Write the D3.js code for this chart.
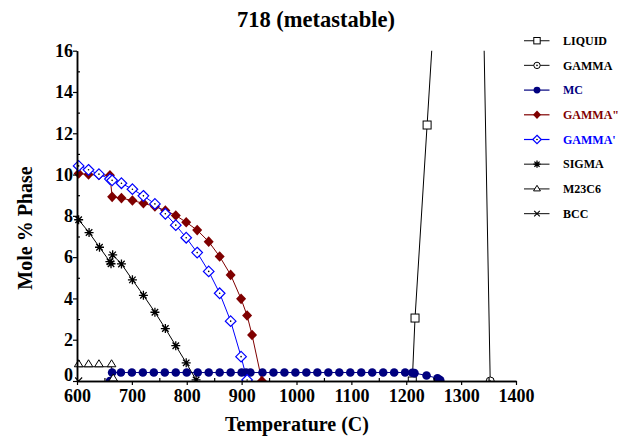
<!DOCTYPE html>
<html>
<head>
<meta charset="utf-8">
<script src="https://cdn.jsdelivr.net/npm/d3@7"></script>
<style>
  body { margin: 0; background: #fff; }
  svg { display: block; }
  text { font-family: "Liberation Serif", "Times New Roman", serif; font-weight: bold; }
</style>
</head>
<body>
<svg id="chart" width="624" height="437"></svg>
<script>
// Phase amounts (mole %) versus temperature (C) for alloy 718, metastable calculation
const liquidPts = [[1211, 0], [1216, 3.05], [1238, 12.4], [1260, 21.8]];
const gammaPts = [[1330, 33.4], [1353, 0]];
const mcPts = [[660, 0], [664, 0.41], [680, 0.41], [700, 0.41], [720, 0.41], [740, 0.41], [760, 0.41],
  [780, 0.41], [800, 0.41], [820, 0.41], [840, 0.41], [860, 0.41], [880, 0.41], [900, 0.41],
  [908, 0.41], [916, 0.41], [938, 0.41], [958, 0.41], [978, 0.41], [998, 0.41], [1018, 0.41],
  [1038, 0.41], [1058, 0.41], [1078, 0.41], [1098, 0.41], [1118, 0.41], [1138, 0.41],
  [1158, 0.41], [1178, 0.41], [1198, 0.41], [1211, 0.40], [1215, 0.38], [1237, 0.27],
  [1257, 0.13], [1262, 0.04]];
const gammaDblPrimePts = [[603, 10.05], [621, 10.0], [640, 9.98], [660, 9.97], [664, 8.92],
  [681, 8.86], [701, 8.74], [721, 8.61], [742, 8.45], [761, 8.26], [780, 8.02], [799, 7.69],
  [819, 7.31], [840, 6.75], [860, 6.03], [880, 5.14], [899, 3.98], [910, 3.17], [919, 2.23],
  [937, 0]];
const gammaPrimePts = [[603, 10.42], [621, 10.23], [640, 10.02], [660, 9.78], [664, 9.72],
  [681, 9.58], [701, 9.29], [721, 8.97], [742, 8.58], [761, 8.10], [780, 7.55], [799, 6.94],
  [819, 6.22], [840, 5.31], [860, 4.25], [880, 2.90], [899, 1.18], [910, 0.05]];
const sigmaPts = [[603, 7.81], [622, 7.19], [641, 6.48], [660, 5.78], [662, 5.68], [665, 6.11],
  [681, 5.67], [701, 4.90], [721, 4.15], [742, 3.33], [761, 2.54], [780, 1.71], [799, 0.88],
  [817, 0.05]];
const m23c6Pts = [[603, 0.69], [621, 0.69], [640, 0.69], [663, 0.69], [666, 0]];
const bccPts = [[603, 0]];

const seriesNames = ["LIQUID", "GAMMA", "MC", "GAMMA\"", "GAMMA'", "SIGMA", "M23C6", "BCC"];
const seriesData = [liquidPts, gammaPts, mcPts, gammaDblPrimePts, gammaPrimePts, sigmaPts, m23c6Pts, bccPts];
const seriesColors = ["#000", "#000", "#00007f", "#7f0000", "#0000ff", "#000", "#000", "#000"];
const seriesMarkers = ["square", "circleDot", "dot", "diamond", "diamondDot", "asterisk", "triangle", "cross"];

const xTicks = [600, 700, 800, 900, 1000, 1100, 1200, 1300, 1400];
const xMinorTicks = [650, 750, 850, 950, 1050, 1150, 1250, 1350];
const yTicks = [0, 2, 4, 6, 8, 10, 12, 14, 16];
const yMinorTicks = [1, 3, 5, 7, 9, 11, 13, 15];

const svg = d3.select("#chart");
const x = d3.scaleLinear().domain([600, 1400]).range([77, 516]);
const y = d3.scaleLinear().domain([0, 16]).range([381, 50.7]);

svg.append("defs").append("clipPath").attr("id", "plotClip")
  .append("rect").attr("x", 0).attr("y", y(16)).attr("width", 540).attr("height", y(0) - y(16));

// Marker shapes shared by the plot and the legend
function drawMarker(g, type, cx, cy, color, s) {
  const sw = 1;
  switch (type) {
    case "square":
      g.append("rect").attr("x", cx - 4 * s).attr("y", cy - 4 * s).attr("width", 8 * s).attr("height", 8 * s)
        .attr("fill", "#fff").attr("stroke", color).attr("stroke-width", sw);
      break;
    case "circleDot":
      g.append("circle").attr("cx", cx).attr("cy", cy).attr("r", 4 * s)
        .attr("fill", "#fff").attr("stroke", color).attr("stroke-width", sw);
      g.append("circle").attr("cx", cx).attr("cy", cy).attr("r", 0.8).attr("fill", color);
      break;
    case "dot":
      g.append("circle").attr("cx", cx).attr("cy", cy).attr("r", 4.3 * s).attr("fill", color);
      break;
    case "diamond":
      g.append("path").attr("d", `M${cx},${cy - 5.3 * s}L${cx + 5 * s},${cy}L${cx},${cy + 5.3 * s}L${cx - 5 * s},${cy}Z`)
        .attr("fill", color);
      break;
    case "diamondDot":
      g.append("path").attr("d", `M${cx},${cy - 5.3 * s}L${cx + 5.3 * s},${cy}L${cx},${cy + 5.3 * s}L${cx - 5.3 * s},${cy}Z`)
        .attr("fill", "#fff").attr("stroke", color).attr("stroke-width", 1.2);
      g.append("circle").attr("cx", cx).attr("cy", cy).attr("r", 0.8).attr("fill", "#000");
      break;
    case "asterisk": {
      const r = 4.5 * s, d = r * 0.72;
      g.append("path").attr("d",
        `M${cx - r},${cy}L${cx + r},${cy}M${cx},${cy - r}L${cx},${cy + r}` +
        `M${cx - d},${cy - d}L${cx + d},${cy + d}M${cx - d},${cy + d}L${cx + d},${cy - d}`)
        .attr("stroke", color).attr("stroke-width", 1.3).attr("fill", "none");
      break;
    }
    case "triangle":
      g.append("path").attr("d", `M${cx},${cy - 7 * s}L${cx + 4.3 * s},${cy}L${cx - 4.3 * s},${cy}Z`)
        .attr("fill", "#fff").attr("stroke", color).attr("stroke-width", sw);
      break;
    case "triangleC":
      g.append("path").attr("d", `M${cx},${cy - 4.5 * s}L${cx + 4.3 * s},${cy + 2.5 * s}L${cx - 4.3 * s},${cy + 2.5 * s}Z`)
        .attr("fill", "#fff").attr("stroke", color).attr("stroke-width", sw);
      break;
    case "cross": {
      const r = 3.5 * s;
      g.append("path").attr("d", `M${cx - r},${cy - r}L${cx + r},${cy + r}M${cx - r},${cy + r}L${cx + r},${cy - r}`)
        .attr("stroke", color).attr("stroke-width", 1.1).attr("fill", "none");
      break;
    }
  }
}

// Series lines and markers
const plot = svg.append("g").attr("clip-path", "url(#plotClip)");
const line = d3.line().x(d => x(d[0])).y(d => y(d[1]));
seriesData.forEach((data, i) => {
  plot.append("path").datum(data).attr("d", line)
    .attr("fill", "none").attr("stroke", seriesColors[i]).attr("stroke-width", 1);
});
seriesData.forEach((data, i) => {
  const g = plot.append("g");
  data.forEach(d => drawMarker(g, seriesMarkers[i], x(d[0]), y(d[1]), seriesColors[i], 1));
});

// Axes
const xAxis = svg.append("g").attr("transform", `translate(0,${y(0)})`)
  .call(d3.axisBottom(x).tickValues(xTicks).tickSize(4).tickSizeOuter(0).tickPadding(4).tickFormat(d3.format("d")));
const xMinor = svg.append("g").attr("transform", `translate(0,${y(0)})`)
  .call(d3.axisBottom(x).tickValues(xMinorTicks).tickSize(-3).tickSizeOuter(0).tickFormat(""));
const yAxis = svg.append("g").attr("transform", `translate(${x(600)},0)`)
  .call(d3.axisLeft(y).tickValues(yTicks).tickSize(4).tickSizeOuter(0).tickPadding(0).tickFormat(d3.format("d")));
const yMinor = svg.append("g").attr("transform", `translate(${x(600)},0)`)
  .call(d3.axisLeft(y).tickValues(yMinorTicks).tickSize(-3).tickSizeOuter(0).tickFormat(""));
[xAxis, yAxis].forEach(a => {
  a.selectAll("text").attr("font-size", 18).attr("fill", "#000")
    .attr("font-family", "'Liberation Serif', serif").attr("font-weight", "bold");
});
// lift the y-axis zero label so it clears the first x label
yAxis.selectAll(".tick").filter(d => d === 0).select("text").attr("dy", "-0.05em");
[xAxis, xMinor, yAxis, yMinor].forEach(a => {
  a.select(".domain").attr("stroke", "#000").attr("stroke-width", 1.5);
  a.selectAll(".tick line").attr("stroke", "#000").attr("stroke-width", 1.2);
});

// Titles
svg.append("text").attr("x", 316).attr("y", 27).attr("text-anchor", "middle")
  .attr("font-size", 22.5).text("718 (metastable)");
svg.append("text").attr("x", 297).attr("y", 431).attr("text-anchor", "middle")
  .attr("font-size", 20).text("Temperature (C)");
svg.append("text").attr("transform", "translate(32,228) rotate(-90)").attr("text-anchor", "middle")
  .attr("font-size", 20).text("Mole % Phase");

// Legend
const legend = svg.append("g");
seriesNames.forEach((name, i) => {
  const ly = 40.7 + i * 24.7;
  const lineColor = seriesColors[i] === "#000" ? "#333" : seriesColors[i];
  legend.append("line").attr("x1", 524).attr("x2", 549.5).attr("y1", ly).attr("y2", ly)
    .attr("stroke", lineColor).attr("stroke-width", 1.2);
  const marker = seriesMarkers[i] === "triangle" ? "triangleC" : seriesMarkers[i];
  drawMarker(legend, marker, 537, ly, seriesColors[i], 0.8);
  legend.append("text").attr("x", 563).attr("y", ly).attr("dy", "0.35em")
    .attr("font-size", 12).attr("fill", seriesColors[i]).text(name);
});
</script>
</body>
</html>
